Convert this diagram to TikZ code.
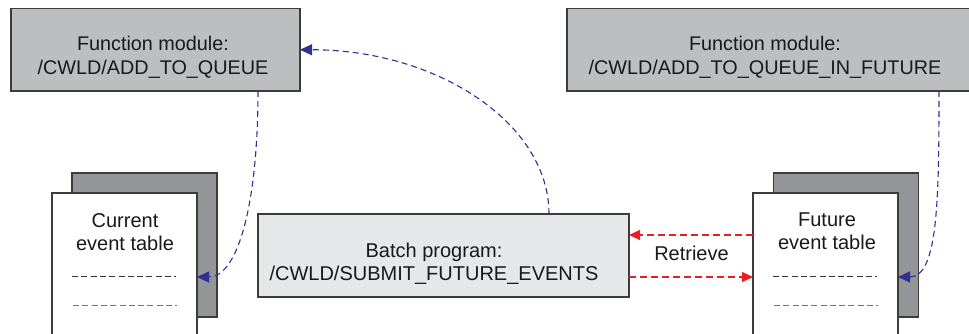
\documentclass[tikz,border=0pt]{standalone}
\usepackage{fontspec}
\setmainfont{Liberation Sans}
\usetikzlibrary{arrows.meta,calc}
\definecolor{fmgray}{HTML}{BCBEC0}
\definecolor{batchgray}{HTML}{E6E7E8}
\definecolor{backgray}{HTML}{939598}
\definecolor{edgegray}{HTML}{3C3C3C}
\definecolor{navyarrow}{HTML}{2E3192}
\definecolor{redarrow}{HTML}{ED1C24}
\begin{document}
\begin{tikzpicture}[x=1pt,y=-1pt,
  box/.style={draw=edgegray,line width=1.1pt,inner sep=0pt,outer sep=0pt,rectangle},
  fmbox/.style={box,fill=fmgray},
  batchbox/.style={box,fill=batchgray},
  backpage/.style={box,fill=backgray,minimum width=145pt,minimum height=144pt},
  frontpage/.style={box,fill=white,minimum width=145pt,minimum height=152pt},
  lbl/.style={inner sep=0pt,outer sep=0pt,align=center,anchor=base,font=\fontsize{20}{23.2}\selectfont,text=black!90},
  fmlbl/.style={lbl,font=\fontsize{19.8}{24.3}\selectfont},
  bluearrow/.style={draw=navyarrow,line width=1.1pt,dash pattern=on 6pt off 4pt,-{Triangle[length=12pt,width=11pt]}},
  redconn/.style={draw=redarrow,line width=1.2pt,dash pattern=on 7pt off 4pt,-{Triangle[length=11pt,width=10pt]}},
  rowline/.style={line width=1pt,dash pattern=on 6pt off 3.3pt}
]
\useasboundingbox (0,0) rectangle (969,334);
\clip (0,0) rectangle (969,334);

% function module boxes
\node[fmbox,minimum width=289pt,minimum height=82.5pt] (fm1) at (155.5,49.75) {};
\node[fmlbl] (fm1t) at (153,75) {Function module:\\/CWLD/ADD\_TO\_QUEUE};
\node[fmbox,minimum width=408pt,minimum height=82.5pt] (fm2) at (771,49.75) {};
\node[fmlbl] (fm2t) at (765,75) {Function module:\\/CWLD/ADD\_TO\_QUEUE\_IN\_FUTURE};

% current event table
\node[backpage] (back1) at (144.5,245) {};
\node[frontpage] (front1) at (124.5,269) {};
\node[lbl] (front1t) at (125,250.7) {Current\\event table};
\draw[rowline,draw=black!80] (72,276) -- (176,276);
\draw[rowline,draw=black!55] (73,305) -- (177,305);

% future event table
\node[backpage] (back2) at (846,245) {};
\node[frontpage] (front2) at (825.5,269) {};
\node[lbl] (front2t) at (827,249.5) {Future\\event table};
\draw[rowline,draw=black!80] (773,276) -- (877,276);
\draw[rowline,draw=black!55] (774,305) -- (878,305);

% batch program
\node[batchbox,minimum width=371pt,minimum height=83pt] (batch) at (443.5,255.5) {};
\node[lbl] (batcht) at (434,280.3) {Batch program:\\/CWLD/SUBMIT\_FUTURE\_EVENTS};

% retrieve label
\node[lbl] (retr) at (691.5,260) {Retrieve};

% blue connectors
\draw[bluearrow] ($(fm1.south)+(102.5,0)$) .. controls +(0,109) and +(42,0) .. ($(front1.east)+(0,8)$);
\draw[bluearrow] ($(fm2.south)+(168,0)$) .. controls +(0,109) and +(40,0) .. ($(front2.east)+(0,8)$);
\draw[bluearrow] ($(batch.north)+(105.5,0)$) .. controls +(0,-91) and +(137,0) .. (fm1.east);

% red connectors
\draw[redconn] ($(front2.west)+(0,-34)$) -- ($(batch.east)+(0,-20.5)$);
\draw[redconn] ($(batch.east)+(0,21.5)$) -- ($(front2.west)+(0,8)$);
\end{tikzpicture}
\end{document}
